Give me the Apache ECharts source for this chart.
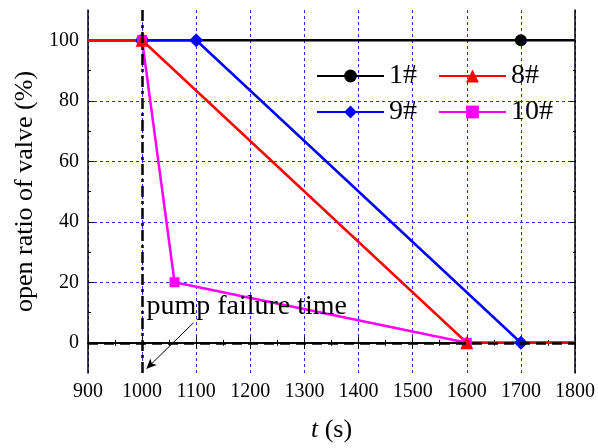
<!DOCTYPE html>
<html>
<head>
<meta charset="utf-8">
<script src="https://cdn.jsdelivr.net/npm/echarts@6/dist/echarts.min.js"></script>
<style>
  body { margin: 0; background: #fff; }
  #myChart { width: 598px; height: 448px; }
</style>
</head>
<body>
<div id="myChart"></div>
<script>
// valve data, time (s) and open ratio (%)
var t1 = [900, 1000, 1700, 1800];
var v1 = [100, 100, 100, 100];
var t8 = [900, 1000, 1600, 1800];
var v8 = [100, 100, 0, 0];
var t9 = [900, 1000, 1100, 1700, 1800];
var v9 = [100, 100, 100, 0, 0];
var t10 = [900, 1000, 1060, 1600, 1800];
var v10 = [100, 100, 20, 0, 0];

var xTicks = [900, 1000, 1100, 1200, 1300, 1400, 1500, 1600, 1700, 1800];
var yTicks = [0, 20, 40, 60, 80, 100];
var failTime = 1000;

var font = '"Liberation Serif", "Times New Roman", serif';
var blueGrid = { show: true, lineStyle: { color: '#2a2aff', width: 1, type: [3, 3] } };

// outer box: y from -10 to 110; inner grid: 0..100 mapped to same pixels
var G = { left: 88, right: 22, top: 10, bottom: 75 };
var ppu = (448 - G.top - G.bottom) / 120;
var G2 = { left: G.left, right: G.right, top: G.top + 10 * ppu, bottom: G.bottom + 10 * ppu };

function pts(t, v) {
  return t.map(function (x, i) {
    var item = { value: [x, v[i]] };
    if (i === 0 || i === t.length - 1) item.symbol = 'none';
    return item;
  });
}

function lineSeries(name, color, symbol, size, t, v) {
  return {
    name: name, type: 'line', xAxisIndex: 0, yAxisIndex: 0,
    symbol: symbol, symbolSize: size, showAllSymbol: true,
    itemStyle: { color: color }, lineStyle: { color: color, width: 2.5 },
    data: pts(t, v), animation: false
  };
}

var legendText = { fontFamily: font, fontSize: 28, color: '#000', lineHeight: 28 };

var myChart = echarts.init(document.getElementById('myChart'));
myChart.setOption({
  animation: false,
  grid: [
    { left: G.left, right: G.right, top: G.top, bottom: G.bottom },
    { left: G2.left, right: G2.right, top: G2.top, bottom: G2.bottom }
  ],
  legend: [
    {
      data: ['1#', '8#'], left: 316, top: 62, padding: 0, itemWidth: 67, itemHeight: 16, itemGap: 21,
      textStyle: legendText
    },
    {
      data: ['9#', '10#'], left: 316, top: 98, padding: 0, itemWidth: 67, itemHeight: 16, itemGap: 21,
      textStyle: legendText
    }
  ],
  xAxis: [
    {
      gridIndex: 0, type: 'value', min: 900, max: 1800, interval: 100, position: 'bottom',
      axisLine: { lineStyle: { color: '#000', width: 1.5 } },
      axisTick: { inside: true, length: 6, lineStyle: { color: '#000' } },
      minorTick: { show: true, splitNumber: 2, length: 3, lineStyle: { color: '#000' } },
      axisLabel: {
        fontFamily: font, fontSize: 20, color: '#000', margin: 9,
        formatter: function (v) { return xTicks.indexOf(v) >= 0 ? String(v) : ''; }
      },
      splitLine: blueGrid,
      name: '{i|t} (s)', nameLocation: 'middle', nameGap: 44,
      nameTextStyle: {
        fontFamily: font, fontSize: 26, color: '#000',
        rich: { i: { fontFamily: font, fontSize: 26, fontStyle: 'italic', color: '#000' } }
      }
    },
    {
      gridIndex: 0, type: 'value', min: 900, max: 1800, interval: 100, position: 'top',
      axisLine: { lineStyle: { color: '#000', width: 1.5 } },
      axisTick: { inside: true, length: 6, lineStyle: { color: '#000' } },
      minorTick: { show: true, splitNumber: 2, length: 3, lineStyle: { color: '#000' } },
      axisLabel: { show: false }, splitLine: { show: false }
    },
    { gridIndex: 1, type: 'value', min: 900, max: 1800, show: false }
  ],
  yAxis: [
    {
      gridIndex: 0, type: 'value', min: -10, max: 110, interval: 10, position: 'left',
      axisLine: { show: true, lineStyle: { color: '#000', width: 1.5 } },
      axisTick: { show: false }, axisLabel: { show: false }, splitLine: { show: false }
    },
    {
      gridIndex: 0, type: 'value', min: -10, max: 110, interval: 10, position: 'right',
      axisLine: { show: true, lineStyle: { color: '#000', width: 1.5 } },
      axisTick: { show: false }, axisLabel: { show: false }, splitLine: { show: false }
    },
    {
      gridIndex: 1, type: 'value', min: 0, max: 100, interval: 20, position: 'left',
      axisLine: { show: false },
      axisTick: { show: true, inside: true, length: 6, lineStyle: { color: '#000' } },
      minorTick: { show: true, splitNumber: 2, length: 3, lineStyle: { color: '#000' } },
      axisLabel: {
        fontFamily: font, fontSize: 20, color: '#000', margin: 9,
        formatter: function (v) { return yTicks.indexOf(v) >= 0 ? String(v) : ''; }
      },
      splitLine: blueGrid,
      name: 'open ratio of valve (%)', nameLocation: 'middle', nameGap: 42, nameRotate: 90,
      nameTextStyle: { fontFamily: font, fontSize: 26, color: '#000' }
    },
    {
      gridIndex: 1, type: 'value', min: 0, max: 100, interval: 20, position: 'right',
      axisLine: { show: false },
      axisTick: { show: true, inside: true, length: 6, lineStyle: { color: '#000' } },
      minorTick: { show: true, splitNumber: 2, length: 3, lineStyle: { color: '#000' } },
      axisLabel: { show: false }, splitLine: { show: false }
    }
  ],
  series: [
    {
      name: 'ref', type: 'line', xAxisIndex: 0, yAxisIndex: 0, data: [], silent: true,
      markLine: {
        silent: true, animation: false, label: { show: false }, symbol: ['none', 'none'],
        data: [
          { xAxis: failTime, lineStyle: { color: '#000', width: 2.5, type: [11, 4, 3, 4] } },
          { yAxis: 0, lineStyle: { color: '#000', width: 2.5, type: [10, 6] } },
          [
            { coord: [1095, 6.6], symbol: 'none', lineStyle: { color: '#000', width: 1, type: 'solid' } },
            { coord: [1008, -8.6], symbol: 'arrow', symbolSize: [7, 10] }
          ]
        ]
      },
      markPoint: {
        silent: true, animation: false, symbol: 'circle', symbolSize: 0,
        data: [{ coord: [1008, 11.8] }],
        label: {
          show: true, position: 'right', distance: 0, formatter: 'pump failure time',
          fontFamily: font, fontSize: 28, color: '#000'
        }
      }
    },
    lineSeries('1#', '#000000', 'circle', 12, t1, v1),
    lineSeries('9#', '#0000ff', 'diamond', 14, t9, v9),
    lineSeries('10#', '#ff00ff', 'rect', 10, t10, v10),
    lineSeries('8#', '#ff0000', 'triangle', 13, t8, v8)
  ]
});
</script>
</body>
</html>
